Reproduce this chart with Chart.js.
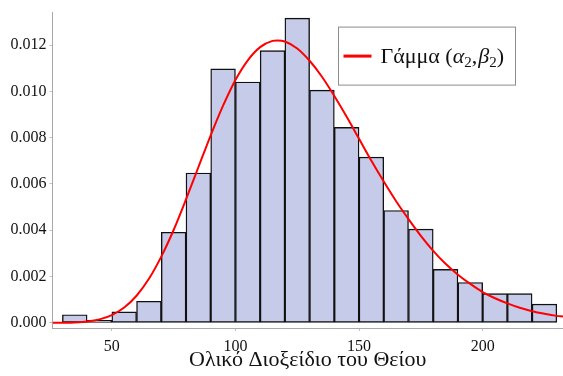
<!DOCTYPE html>
<html>
<head>
<meta charset="utf-8">
<script src="https://cdn.jsdelivr.net/npm/chart.js@4/dist/chart.umd.min.js"></script>
<style>
  html, body { margin: 0; padding: 0; background: #ffffff; }
  #wrap { position: relative; width: 563px; height: 376px; }
</style>
</head>
<body>
<div id="wrap"><canvas id="chart" width="563" height="376"></canvas></div>
<script>
// Histogram bins (lower edge of each 10-unit bin) and their densities
const binLower = [30, 40, 50, 60, 70, 80, 90, 100, 110, 120, 130, 140, 150, 160, 170, 180, 190, 200, 210, 220];
const binWidth = 10;
const density = [0.00035, 0.00011, 0.00047, 0.00093, 0.00391, 0.00647, 0.01097, 0.01040, 0.01176, 0.01316,
                 0.01005, 0.00844, 0.00716, 0.00485, 0.00405, 0.00231, 0.00174, 0.00126, 0.00126, 0.00081];

// Fitted Gamma density curve
const curveX = [26, 30, 35, 40, 45, 50, 55, 60, 65, 70, 75, 80, 85, 90, 95, 100, 105, 110, 115, 117, 120,
                125, 130, 135, 140, 145, 150, 155, 160, 165, 170, 175, 180, 185, 190, 195, 200, 205, 210,
                215, 220, 225, 230, 232.5];
const curveY = [0.000001, 0.000004, 0.000017, 0.000056, 0.000148, 0.000334, 0.00066, 0.00117, 0.0019, 0.00286,
                0.00401, 0.00533, 0.00672, 0.0081, 0.00938, 0.01049, 0.01134, 0.01191, 0.01218, 0.01220, 0.01215,
                0.01185, 0.01132, 0.01063, 0.00980, 0.00890, 0.00795, 0.00700, 0.00610, 0.00525, 0.00448,
                0.00376, 0.00311, 0.00255, 0.00208, 0.00168, 0.00133, 0.00106, 0.00084, 0.00065, 0.00050,
                0.00039, 0.00030, 0.00027];

// Tick labels
const xTicks = [50, 100, 150, 200];
const yTicks = [0, 0.002, 0.004, 0.006, 0.008, 0.010, 0.012];

const xTitle = 'Ολικό Διοξείδιο του Θείου';
const curveLabel = 'Γάμμα (α₂,β₂)';

const FONT = '"Liberation Serif", "Times New Roman", serif';
const barFill = 'rgb(198, 203, 234)';
const curveColor = 'rgb(255, 0, 0)';
const axisColor = '#a8a8a8';

// Boxed legend with italic Greek letters and subscripts
const richLegend = {
  id: 'richLegend',
  afterDraw(chart) {
    const ctx = chart.ctx;
    const area = chart.chartArea;
    const ds = chart.data.datasets[1];
    const boxW = 177, boxH = 58;
    const bx = area.right - 48 - boxW + 0.5;
    const by = area.top + 14 + 0.5;
    ctx.save();
    ctx.fillStyle = '#ffffff';
    ctx.fillRect(bx, by, boxW, boxH);
    ctx.strokeStyle = '#8c8c8c';
    ctx.lineWidth = 1;
    ctx.strokeRect(bx, by, boxW, boxH);

    const cy = by + boxH / 2;
    ctx.strokeStyle = ds.borderColor;
    ctx.lineWidth = 3;
    ctx.beginPath();
    ctx.moveTo(bx + 5, cy);
    ctx.lineTo(bx + 33, cy);
    ctx.stroke();

    const parts = [
      { t: 'Γάμμα (', f: '22px ' + FONT, dy: 0 },
      { t: 'α', f: 'italic 22px ' + FONT, dy: 0 },
      { t: '2', f: '15px ' + FONT, dy: 4 },
      { t: ',', f: '22px ' + FONT, dy: 0 },
      { t: 'β', f: 'italic 22px ' + FONT, dy: 0 },
      { t: '2', f: '15px ' + FONT, dy: 4 },
      { t: ')', f: '22px ' + FONT, dy: 0 }
    ];
    ctx.fillStyle = '#111111';
    ctx.textBaseline = 'alphabetic';
    let x = bx + 42;
    const base = cy + 7;
    for (const p of parts) {
      ctx.font = p.f;
      ctx.fillText(p.t, x, base + p.dy);
      x += ctx.measureText(p.t).width + (p.t === ',' ? 1 : 0);
    }
    ctx.restore();
  }
};

new Chart(document.getElementById('chart'), {
  type: 'bar',
  data: {
    datasets: [
      {
        type: 'bar',
        label: 'Ιστόγραμμα',
        data: binLower.map((lo, i) => ({ x: lo + binWidth / 2, y: density[i] })),
        backgroundColor: barFill,
        borderColor: '#111111',
        borderWidth: 1.4,
        borderSkipped: false,
        barPercentage: 1,
        categoryPercentage: 1,
        order: 2
      },
      {
        type: 'line',
        label: curveLabel,
        data: curveX.map((x, i) => ({ x: x, y: curveY[i] })),
        borderColor: curveColor,
        borderWidth: 2,
        pointRadius: 0,
        fill: false,
        cubicInterpolationMode: 'monotone',
        order: 1
      }
    ]
  },
  options: {
    responsive: false,
    animation: false,
    devicePixelRatio: 1,
    layout: { padding: { top: 12, right: 0, left: 0, bottom: 0 } },
    plugins: {
      legend: { display: false },
      tooltip: { enabled: false }
    },
    scales: {
      x: {
        type: 'linear',
        offset: false,
        min: 26,
        max: 232.5,
        afterBuildTicks(scale) { scale.ticks = xTicks.map(v => ({ value: v })); },
        afterFit(scale) { scale.height = 48; },
        ticks: {
          color: '#111111',
          font: { family: FONT, size: 16 },
          padding: 6,
          maxRotation: 0
        },
        grid: {
          offset: false,
          drawOnChartArea: false,
          drawTicks: true,
          tickLength: 3,
          color: '#c0c0c0'
        },
        border: { display: true, color: axisColor, width: 1 },
        title: {
          display: true,
          text: xTitle,
          color: '#111111',
          font: { family: FONT, size: 22 },
          padding: { top: 0, bottom: 3 }
        }
      },
      y: {
        type: 'linear',
        min: -0.000224,
        max: 0.0134,
        afterBuildTicks(scale) { scale.ticks = yTicks.map(v => ({ value: v })); },
        afterFit(scale) { scale.width = 52.5; },
        ticks: {
          color: '#111111',
          font: { family: FONT, size: 16 },
          padding: 3,
          callback: v => v.toFixed(3)
        },
        grid: {
          drawOnChartArea: false,
          drawTicks: true,
          tickLength: 3,
          color: '#c0c0c0'
        },
        border: { display: true, color: axisColor, width: 1 }
      }
    }
  },
  plugins: [richLegend]
});
</script>
</body>
</html>
